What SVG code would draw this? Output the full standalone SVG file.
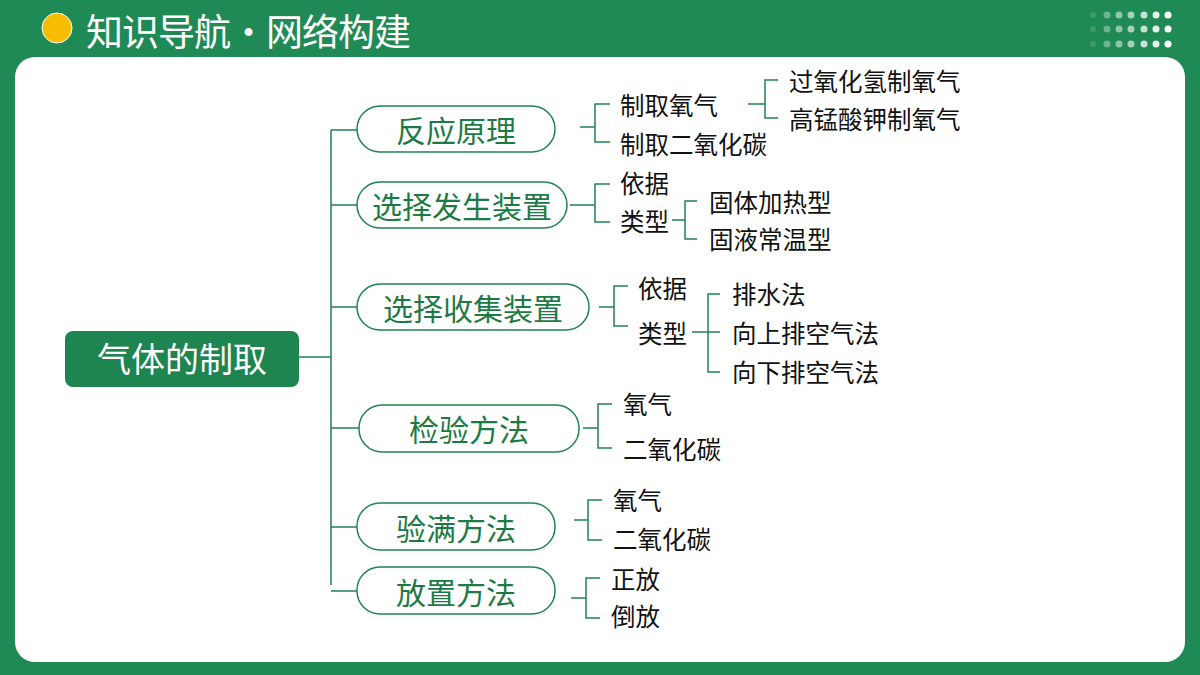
<svg xmlns="http://www.w3.org/2000/svg" width="1200" height="675" viewBox="0 0 1200 675">
<style>
.b{fill:#fff;stroke:#1e8450;stroke-width:1.5}
.bt{font-family:"Noto Sans CJK SC",sans-serif;font-size:30px;fill:#1e7a45;text-anchor:middle;dominant-baseline:central}
.t{font-family:"Noto Sans CJK SC",sans-serif;font-size:24.5px;fill:#111;dominant-baseline:central}
.c{fill:none;stroke:#1e8450;stroke-width:1.5}
</style>
<rect width="1200" height="675" fill="#1f8a55"/>
<g fill="#fff">
<circle cx="1093" cy="15" r="3" opacity="0.15"/><circle cx="1107" cy="15" r="3.5" opacity="0.35"/><circle cx="1119" cy="15" r="3.5" opacity="0.5"/><circle cx="1131" cy="15" r="3.5" opacity="0.6"/><circle cx="1144" cy="15" r="3.5" opacity="0.75"/><circle cx="1156" cy="15" r="3.5" opacity="0.88"/><circle cx="1168" cy="15" r="3.5"/>
<circle cx="1093" cy="29" r="3" opacity="0.15"/><circle cx="1107" cy="29" r="3.5" opacity="0.35"/><circle cx="1119" cy="29" r="3.5" opacity="0.5"/><circle cx="1131" cy="29" r="3.5" opacity="0.6"/><circle cx="1144" cy="29" r="3.5" opacity="0.75"/><circle cx="1156" cy="29" r="3.5" opacity="0.88"/><circle cx="1168" cy="29" r="3.5"/>
<circle cx="1093" cy="44" r="3" opacity="0.15"/><circle cx="1107" cy="44" r="3.5" opacity="0.35"/><circle cx="1119" cy="44" r="3.5" opacity="0.5"/><circle cx="1131" cy="44" r="3.5" opacity="0.6"/><circle cx="1144" cy="44" r="3.5" opacity="0.75"/><circle cx="1156" cy="44" r="3.5" opacity="0.88"/><circle cx="1168" cy="44" r="3.5"/>
</g>
<rect x="15" y="57" width="1170" height="605" rx="20" fill="#fff"/>
<circle cx="57" cy="28" r="15" fill="#f8bd00" stroke="#fff" stroke-width="1"/>
<text x="86" y="30" font-family="Noto Sans CJK SC,sans-serif" font-size="37" fill="#fff" dominant-baseline="central" letter-spacing="-1">知识导航·网络构建</text>

<g id="connectors" class="c">
<path d="M299 357H331M331 130V585M331 130H357M331 205H357M331 307H357M331 428H359M331 527H357M331 591H357"/>
<path d="M580 127H595M610 104H595V142H610"/>
<path d="M748 104H765M778 80H765V118H778"/>
<path d="M570 205H595M610 184H595V222H610"/>
<path d="M672 220H685M697 201H685V239H697"/>
<path d="M599 307H614M628 286H614V326H628"/>
<path d="M692 332H708M720 294H708V372H720M708 332H720"/>
<path d="M583 428H598M612 404H598V448H612"/>
<path d="M574 520H588M602 500H588V540H602"/>
<path d="M571 598H586M600 578H586V618H600"/>
</g>

<g id="root"><rect x="65" y="331" width="234" height="56" rx="8" fill="#1e8450"/><text x="182" y="357" class="bt" style="fill:#fff;font-size:34px">气体的制取</text></g>
<g id="n1"><rect class="b" x="357" y="106" width="198" height="46" rx="23"/><text class="bt" x="456" y="129">反应原理</text></g>
<g id="n2"><rect class="b" x="357" y="182" width="210" height="46" rx="23"/><text class="bt" x="462" y="205">选择发生装置</text></g>
<g id="n3"><rect class="b" x="357" y="284" width="232" height="46" rx="23"/><text class="bt" x="473" y="307">选择收集装置</text></g>
<g id="n4"><rect class="b" x="359" y="405" width="220" height="47" rx="23"/><text class="bt" x="469" y="428">检验方法</text></g>
<g id="n5"><rect class="b" x="357" y="503" width="198" height="47" rx="23"/><text class="bt" x="456" y="527">验满方法</text></g>
<g id="n6"><rect class="b" x="357" y="567" width="198" height="47" rx="23"/><text class="bt" x="456" y="591">放置方法</text></g>

<g id="leaves">
<text class="t" x="620" y="104">制取氧气</text>
<text class="t" x="620" y="143">制取二氧化碳</text>
<text class="t" x="789" y="80">过氧化氢制氧气</text>
<text class="t" x="789" y="118">高锰酸钾制氧气</text>
<text class="t" x="620" y="182">依据</text>
<text class="t" x="620" y="220">类型</text>
<text class="t" x="709" y="201">固体加热型</text>
<text class="t" x="709" y="238">固液常温型</text>
<text class="t" x="638" y="287">依据</text>
<text class="t" x="638" y="332">类型</text>
<text class="t" x="732" y="293">排水法</text>
<text class="t" x="732" y="332">向上排空气法</text>
<text class="t" x="732" y="371">向下排空气法</text>
<text class="t" x="623" y="403">氧气</text>
<text class="t" x="623" y="448">二氧化碳</text>
<text class="t" x="613" y="499">氧气</text>
<text class="t" x="613" y="538">二氧化碳</text>
<text class="t" x="611" y="578">正放</text>
<text class="t" x="611" y="615">倒放</text>
</g>
</svg>
